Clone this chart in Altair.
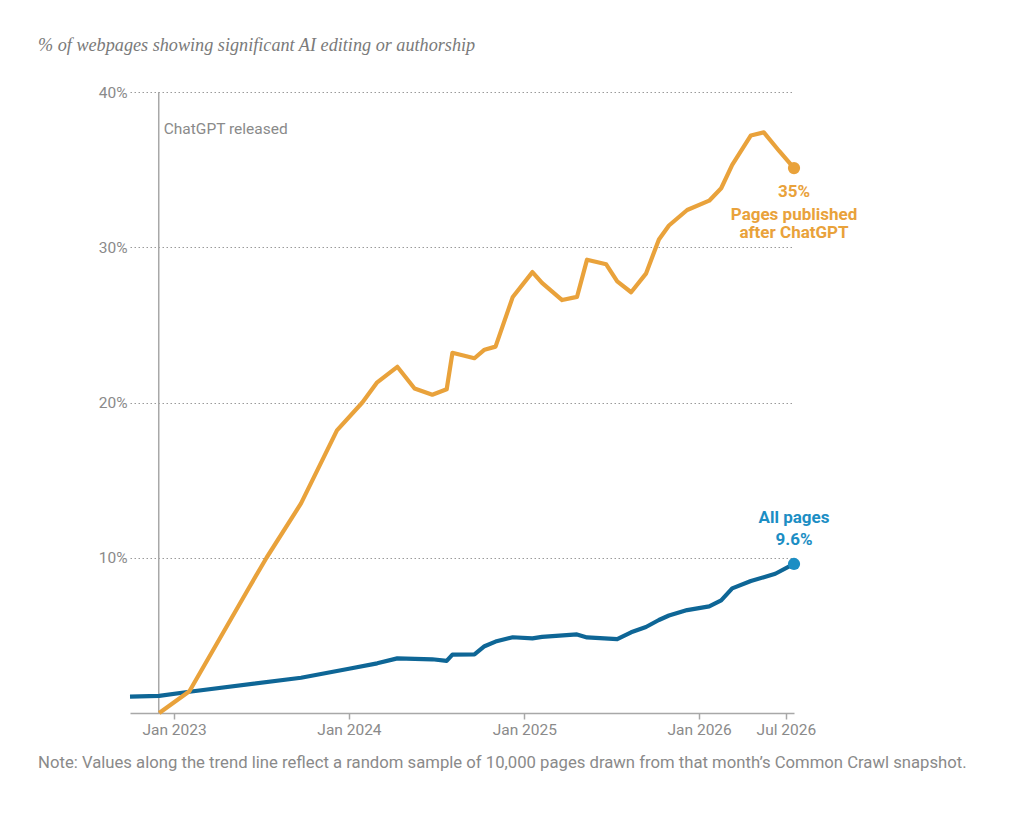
import altair as alt
import pandas as pd

# ---------------- data ----------------
blue_dates = [
    "2022-10-01", "2022-12-01", "2023-02-02", "2023-09-23", "2024-01-01",
    "2024-02-29", "2024-04-11", "2024-06-23", "2024-07-23", "2024-08-04",
    "2024-09-19", "2024-10-10", "2024-11-02", "2024-12-08", "2025-01-18",
    "2025-02-07", "2025-04-21", "2025-05-12", "2025-07-14", "2025-08-12",
    "2025-09-12", "2025-10-09", "2025-10-30", "2025-12-07", "2026-01-22",
    "2026-02-16", "2026-03-11", "2026-04-19", "2026-05-16", "2026-06-09",
    "2026-07-18",
]
blue_values = [
    1.05, 1.1, 1.37, 2.27, 2.85,
    3.2, 3.52, 3.46, 3.36, 3.76,
    3.77, 4.3, 4.6, 4.88, 4.81,
    4.9, 5.06, 4.87, 4.76, 5.2,
    5.54, 5.99, 6.28, 6.63, 6.87,
    7.25, 8.03, 8.5, 8.75, 8.97,
    9.6,
]

orange_dates = [
    "2022-12-01", "2023-02-02", "2023-06-07", "2023-07-13", "2023-09-23",
    "2023-12-07", "2024-01-29", "2024-02-29", "2024-04-11", "2024-05-17",
    "2024-06-23", "2024-07-23", "2024-08-04", "2024-09-19", "2024-10-10",
    "2024-11-02", "2024-12-08", "2025-01-18", "2025-02-07", "2025-03-21",
    "2025-04-21", "2025-05-12", "2025-06-21", "2025-07-14", "2025-08-12",
    "2025-09-12", "2025-10-09", "2025-10-30", "2025-12-07", "2026-01-22",
    "2026-02-16", "2026-03-11", "2026-04-19", "2026-05-16", "2026-06-17",
    "2026-07-18",
]
orange_values = [
    0.0, 1.4, 8.1, 10.0, 13.5,
    18.2, 20.0, 21.3, 22.3, 20.9,
    20.5, 20.85, 23.2, 22.85, 23.4,
    23.6, 26.8, 28.4, 27.7, 26.6,
    26.8, 29.2, 28.9, 27.8, 27.1,
    28.3, 30.5, 31.4, 32.4, 33.0,
    33.8, 35.3, 37.2, 37.4, 36.2,
    35.1,
]

series_names = ["All pages", "Pages published after ChatGPT"]
release_date = "2022-11-30"
y_ticks = [10, 20, 30, 40]

title_text = "% of webpages showing significant AI editing or authorship"
note_text = ("Note: Values along the trend line reflect a random sample of 10,000 pages "
             "drawn from that month\u2019s Common Crawl snapshot.")
release_text = "ChatGPT released"

# ---------------- styles ----------------
BLUE_LINE = "#0E6696"
BLUE_DOT = "#1C8EC4"
ORANGE = "#E9A23B"
GRAY_TXT = "#8a8a8a"
SANS = "Roboto"

W, H = 664, 621

blue_df = pd.DataFrame({"date": blue_dates, "value": blue_values, "series": series_names[0]})
orange_df = pd.DataFrame({"date": orange_dates, "value": orange_values, "series": series_names[1]})
lines_df = pd.concat([blue_df, orange_df], ignore_index=True)

ends_df = pd.DataFrame({
    "date": [blue_dates[-1], orange_dates[-1]],
    "value": [blue_values[-1], orange_values[-1]],
    "series": series_names,
})
blue_end = ends_df[ends_df.series == series_names[0]].assign(
    pct=f"{blue_values[-1]:.1f}%", name="All pages")
orange_end = ends_df[ends_df.series == series_names[1]].assign(
    pct=f"{round(orange_values[-1])}%", l1="Pages published", l2="after ChatGPT")

release_df = pd.DataFrame({"date": [release_date], "y0": [0], "y1": [40]})

x_scale = alt.Scale(
    type="utc",
    domain=[alt.DateTime(year=2022, month=10, date=1, utc=True),
            alt.DateTime(year=2026, month=7, date=18, utc=True)],
)
x_axis = alt.Axis(
    values=[alt.DateTime(year=2023, month=1, date=1, utc=True),
            alt.DateTime(year=2024, month=1, date=1, utc=True),
            alt.DateTime(year=2025, month=1, date=1, utc=True),
            alt.DateTime(year=2026, month=1, date=1, utc=True),
            alt.DateTime(year=2026, month=7, date=1, utc=True)],
    labelExpr="utcFormat(datum.value, '%b %Y')", title=None, grid=False,
    domainColor="#a8a8a8", domainWidth=1.5, tickColor="#a8a8a8", tickWidth=1.5,
    tickSize=6, labelFont=SANS, labelFontSize=15.5, labelColor=GRAY_TXT, labelPadding=3,
)
y_scale = alt.Scale(domain=[0, 40], nice=False)
y_axis = alt.Axis(
    values=y_ticks, labelExpr="datum.value + '%'", title=None, domain=False, ticks=False,
    grid=True, gridColor="#9a9a9a", gridDash=[1.5, 2.5], gridWidth=1,
    labelFont=SANS, labelFontSize=15.5, labelColor=GRAY_TXT, labelPadding=3,
)

X = alt.X("date:T", scale=x_scale, axis=x_axis)
Y = alt.Y("value:Q", scale=y_scale, axis=y_axis)

release_rule = alt.Chart(release_df).mark_rule(color="#a8a8a8", strokeWidth=1.5).encode(
    x=alt.X("date:T", scale=x_scale, axis=x_axis),
    y=alt.Y("y0:Q", scale=y_scale, axis=y_axis),
    y2="y1:Q",
)
release_label = alt.Chart(release_df).mark_text(
    align="left", baseline="middle", dx=5, font=SANS, fontSize=15.5, color=GRAY_TXT,
).encode(
    x="date:T", y=alt.value(37), text=alt.value(release_text),
)

lines = alt.Chart(lines_df).mark_line(strokeWidth=4.2, strokeJoin="round", strokeCap="butt").encode(
    x=X, y=Y,
    color=alt.Color("series:N", scale=alt.Scale(domain=series_names, range=[BLUE_LINE, ORANGE]), legend=None),
    detail="series:N",
)
dots = alt.Chart(ends_df).mark_circle(size=150, opacity=1).encode(
    x="date:T", y="value:Q",
    color=alt.Color("series:N", scale=alt.Scale(domain=series_names, range=[BLUE_DOT, ORANGE]), legend=None),
)

def end_text(df, field, dy, color):
    return alt.Chart(df).mark_text(
        align="center", baseline="middle", dy=dy, font=SANS, fontSize=17,
        fontWeight="bold", color=color,
    ).encode(x="date:T", y="value:Q", text=f"{field}:N")

labels = (
    end_text(blue_end, "name", -46, BLUE_DOT)
    + end_text(blue_end, "pct", -24, BLUE_DOT)
    + end_text(orange_end, "pct", 24, ORANGE)
    + end_text(orange_end, "l1", 47, ORANGE)
    + end_text(orange_end, "l2", 65, ORANGE)
)

title_df = pd.DataFrame({"t": [title_text]})
title_mark = alt.Chart(title_df).mark_text(
    align="left", baseline="middle", font="Liberation Serif", fontStyle="italic",
    fontSize=18.2, color="#7a7a7a",
).encode(x=alt.value(-92), y=alt.value(-46), text="t:N")

note_df = pd.DataFrame({"t": [note_text]})
note_mark = alt.Chart(note_df).mark_text(
    align="left", baseline="middle", font=SANS, fontSize=16.7, color=GRAY_TXT,
).encode(x=alt.value(-92), y=alt.value(671), text="t:N")

chart = alt.layer(
    release_rule, release_label, lines, dots, labels, title_mark, note_mark,
).resolve_scale(color="independent").properties(
    width=W, height=H,
    padding={"left": 122, "top": 84, "right": 200, "bottom": 100},
    autosize=alt.AutoSizeParams(type="none"),
    background="white",
).configure_view(strokeWidth=0, stroke="transparent")

chart.save("out.html", embed_options={"renderer": "svg", "actions": False})
